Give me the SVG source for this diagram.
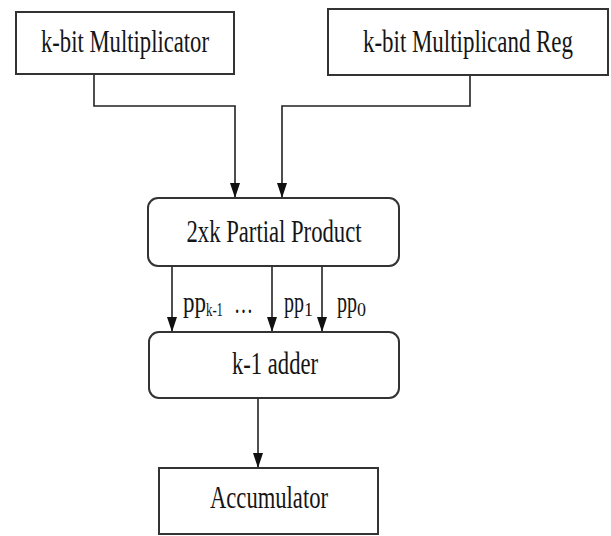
<svg xmlns="http://www.w3.org/2000/svg" width="611" height="536" viewBox="0 0 611 536">
<style>
.box{fill:#fff;stroke:#333;stroke-width:2}
.t{font-family:"Liberation Serif","Times New Roman",serif;font-size:31px;fill:#151515;text-anchor:middle}
.l{font-family:"Liberation Serif","Times New Roman",serif;font-size:29px;fill:#151515}
.s{font-size:18px}
.c{fill:none;stroke:#222;stroke-width:1.6}
</style>
<defs>
<marker id="ah" viewBox="0 0 15 10" refX="15" refY="5" markerWidth="15" markerHeight="10" markerUnits="userSpaceOnUse" orient="auto">
<path d="M0,0 L15,5 L0,10 z" fill="#111"/>
</marker>
</defs>
<g id="connectors">
<polyline class="c" points="94,74 94,106 235,106 235,198" marker-end="url(#ah)"/>
<polyline class="c" points="470,75 470,106 282,106 282,198" marker-end="url(#ah)"/>
<line class="c" x1="172" y1="266" x2="172" y2="332" marker-end="url(#ah)"/>
<line class="c" x1="272" y1="266" x2="272" y2="332" marker-end="url(#ah)"/>
<line class="c" x1="322" y1="266" x2="322" y2="332" marker-end="url(#ah)"/>
<line class="c" x1="258" y1="398" x2="258" y2="468" marker-end="url(#ah)"/>
</g>
<g id="multiplicator">
<rect class="box" x="16" y="12" width="218" height="62"/>
<text class="t" x="125" y="52" textLength="168" lengthAdjust="spacingAndGlyphs">k-bit Multiplicator</text>
</g>
<g id="multiplicand">
<rect class="box" x="328" y="9" width="280" height="66"/>
<text class="t" x="468" y="52" textLength="210" lengthAdjust="spacingAndGlyphs">k-bit Multiplicand Reg</text>
</g>
<g id="partial-product">
<rect class="box" x="148" y="198" width="251" height="68" rx="10"/>
<text class="t" x="274" y="242" textLength="175" lengthAdjust="spacingAndGlyphs">2xk Partial Product</text>
</g>
<g id="labels">
<text class="l" x="183" y="312"><tspan textLength="23" lengthAdjust="spacingAndGlyphs">pp</tspan><tspan class="s" dy="4" textLength="17" lengthAdjust="spacingAndGlyphs">k-1</tspan></text>
<text class="l" x="234" y="313" textLength="19" lengthAdjust="spacingAndGlyphs">…</text>
<text class="l" x="284" y="312"><tspan textLength="20" lengthAdjust="spacingAndGlyphs">pp</tspan><tspan class="s" dy="4">1</tspan></text>
<text class="l" x="337" y="312"><tspan textLength="20" lengthAdjust="spacingAndGlyphs">pp</tspan><tspan class="s" dy="4">0</tspan></text>
</g>
<g id="adder">
<rect class="box" x="149" y="332" width="250" height="66" rx="10"/>
<text class="t" x="275" y="374" textLength="86" lengthAdjust="spacingAndGlyphs">k-1 adder</text>
</g>
<g id="accumulator">
<rect class="box" x="159" y="468" width="219" height="66"/>
<text class="t" x="269" y="508" textLength="118" lengthAdjust="spacingAndGlyphs">Accumulator</text>
</g>
</svg>
